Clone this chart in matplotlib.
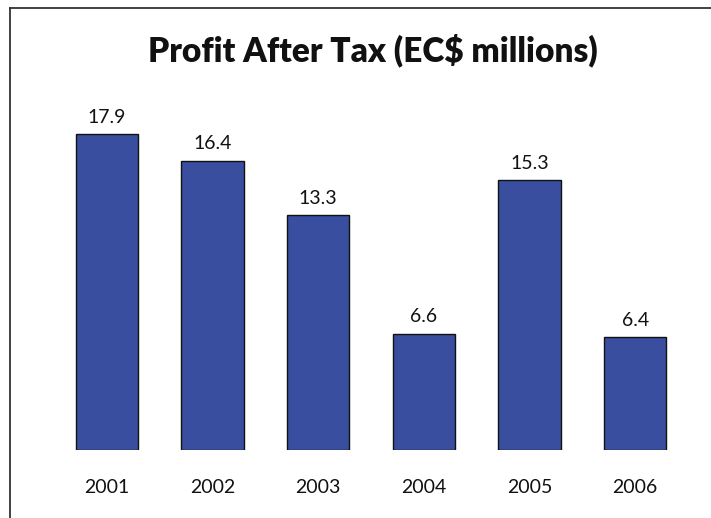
import matplotlib.pyplot as plt
from matplotlib.lines import Line2D

# Profit after tax by year, EC$ millions
years = ["2001", "2002", "2003", "2004", "2005", "2006"]
profit = [17.9, 16.4, 13.3, 6.6, 15.3, 6.4]

BAR_COLOR = "#3a4ea0"
W, H = 711, 518

plt.rcParams['font.family'] = ['Lato', 'DejaVu Sans']

fig = plt.figure(figsize=(W / 100, H / 100), dpi=100)
fig.patch.set_facecolor("white")

# axes placed in pixel terms: baseline at y=450, bars ~105.7px apart
ax = fig.add_axes([54 / W, (H - 450) / H, 634 / W, 353 / H])
x = range(len(years))
bars = ax.bar(x, profit, width=0.59, color=BAR_COLOR, edgecolor="#111111", linewidth=1.0)

for xi, v in zip(x, profit):
    ax.annotate(f"{v}", (xi, v), xytext=(0, 6), textcoords="offset points",
                ha="center", va="bottom", fontsize=14, color="#111111")

ax.set_xlim(-0.5, 5.5)
ax.set_ylim(0, 20)
ax.set_xticks(list(x))
ax.set_xticklabels(years, fontsize=14, color="#111111")
ax.tick_params(axis="x", length=0, pad=21)
ax.set_yticks([])
for s in ax.spines.values():
    s.set_visible(False)

fig.text(373 / W, 1 - 50 / H, "Profit After Tax (EC$ millions)", ha="center", va="center",
         fontsize=24, fontweight="heavy", color="#111111")

# partial frame: top and left edges only
fig.add_artist(Line2D([10 / W, 1], [1 - 8 / H, 1 - 8 / H], color="#333333", linewidth=1.3))
fig.add_artist(Line2D([10 / W, 10 / W], [0, 1 - 8 / H], color="#333333", linewidth=1.3))

fig.savefig("out.png", dpi=100)
